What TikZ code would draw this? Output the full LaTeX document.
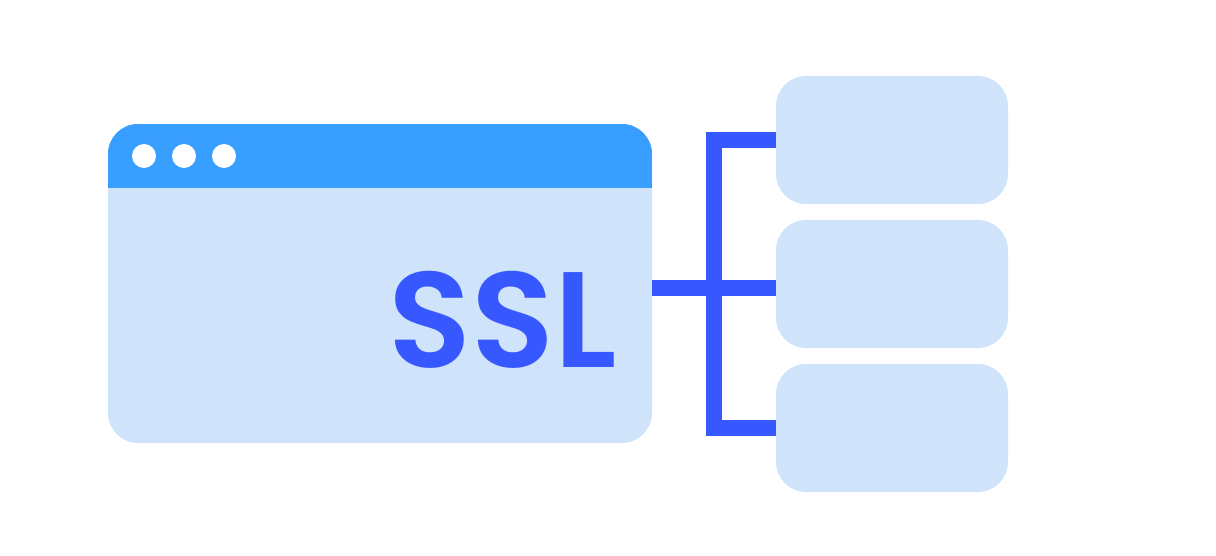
\documentclass[tikz,border=0pt]{standalone}
\usepackage{fontspec}
\newfontfamily\ssfont{Poppins SemiBold}
\definecolor{hdrblue}{RGB}{56,158,255}
\definecolor{lightblue}{RGB}{207,227,251}
\definecolor{linkblue}{RGB}{56,88,255}
\tikzset{
  winbox/.style={fill=lightblue, rounded corners=30pt, minimum width=544pt, minimum height=319pt, inner sep=0pt, draw=none,
    path picture={\fill[hdrblue, sharp corners] (path picture bounding box.north west) rectangle ([yshift=-64pt]path picture bounding box.north east);}},
  srvbox/.style={fill=lightblue, rounded corners=30pt, minimum width=232pt, minimum height=128pt, inner sep=0pt, draw=none},
  dotc/.style={circle, fill=white, minimum size=24pt, inner sep=0pt},
  conn/.style={draw=linkblue, line width=16pt, line join=miter, line cap=butt},
  ssltext/.style={text=linkblue, font=\ssfont\fontsize{136}{136}\selectfont, inner sep=0pt, anchor=base east}
}
\begin{document}
\begin{tikzpicture}[x=1pt,y=-1pt]
\useasboundingbox (0,0) rectangle (1216,556);
\coordinate (hub) at (714,288);
\coordinate (j1) at (714,140);
\coordinate (j3) at (714,428);
\node[winbox] (win) at (380,283.5) {};
\node[dotc] (d1) at (144,156) {};
\node[dotc] (d2) at (184,156) {};
\node[dotc] (d3) at (224,156) {};
\node[ssltext] (ssl) at (617,367) {SSL};
\node[srvbox] (s1) at (892,140) {};
\node[srvbox] (s2) at (892,284) {};
\node[srvbox] (s3) at (892,428) {};
\draw[conn] (win.east |- hub) -- (s2.west |- hub);
\draw[conn] (s1.west |- j1) -- (j1) -- (j3) -- (s3.west |- j3);
\end{tikzpicture}
\end{document}
